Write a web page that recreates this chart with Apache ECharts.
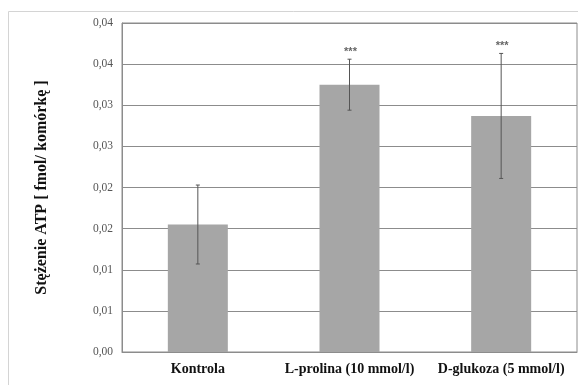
<!DOCTYPE html>
<html>
<head>
<meta charset="utf-8">
<script src="https://cdn.jsdelivr.net/npm/echarts@6/dist/echarts.min.js"></script>
<style>
html,body{margin:0;padding:0;background:#fff;}
#c{width:578px;height:385px;}
</style>
</head>
<body>
<div id="c"></div>
<script>
var categories = ['Kontrola', 'L-prolina (10 mmol/l)', 'D-glukoza (5 mmol/l)'];
var means = [0.0155, 0.0325, 0.0287];
var errors = [0.0048, 0.0031, 0.0076];
var significance = ['', '***', '***'];
var yTickLabels = ['0,00', '0,01', '0,01', '0,02', '0,02', '0,03', '0,03', '0,04', '0,04'];
var yTitle = 'Stężenie ATP [ fmol/ komórkę ]';

var chart = echarts.init(document.getElementById('c'), null, {renderer: 'canvas'});
var errData = means.map(function (m, i) { return [i, m - errors[i], m + errors[i], significance[i]]; });

chart.setOption({
  animation: false,
  backgroundColor: '#fff',
  graphic: [{
    type: 'rect', silent: true, z: -10,
    shape: {x: 8.5, y: 11.5, width: 600, height: 400},
    style: {fill: 'none', stroke: '#d4d4d4', lineWidth: 1}
  }],
  grid: {left: 122, top: 23, right: 1, bottom: 33, show: true, borderColor: '#8c8c8c', borderWidth: 1, backgroundColor: 'transparent'},
  xAxis: {
    type: 'category',
    data: categories,
    axisTick: {show: false},
    axisLine: {lineStyle: {color: '#8c8c8c'}},
    axisLabel: {color: '#111', fontFamily: 'Liberation Serif', fontWeight: 'bold', fontSize: 14, margin: 10, interval: 0}
  },
  yAxis: {
    type: 'value', min: 0, max: 0.04, interval: 0.005,
    name: yTitle, nameLocation: 'middle', nameGap: 72, nameRotate: 90,
    nameTextStyle: {color: '#111', fontFamily: 'Liberation Serif', fontWeight: 'bold', fontSize: 16},
    axisLine: {show: true, lineStyle: {color: '#8c8c8c'}},
    axisTick: {show: false},
    splitLine: {lineStyle: {color: '#8c8c8c', width: 1}},
    axisLabel: {
      color: '#555', fontFamily: 'Liberation Serif', fontSize: 11.5, margin: 9,
      formatter: function (v, idx) { return yTickLabels[Math.round(v / 0.005)]; }
    }
  },
  series: [{
    type: 'bar',
    data: means,
    barWidth: 60,
    itemStyle: {color: '#a6a6a6'}
  }, {
    type: 'custom',
    data: errData,
    z: 10,
    renderItem: function (params, api) {
      var x = api.value(0);
      var lo = api.coord([x, api.value(1)]);
      var hi = api.coord([x, api.value(2)]);
      var cap = 2;
      var st = {stroke: '#555', lineWidth: 1};
      var children = [
        {type: 'line', shape: {x1: lo[0], y1: lo[1], x2: hi[0], y2: hi[1]}, style: st},
        {type: 'line', shape: {x1: lo[0] - cap, y1: lo[1], x2: lo[0] + cap, y2: lo[1]}, style: st},
        {type: 'line', shape: {x1: hi[0] - cap, y1: hi[1], x2: hi[0] + cap, y2: hi[1]}, style: st}
      ];
      var s = significance[params.dataIndex];
      if (s) {
        children.push({type: 'text', style: {text: s, x: hi[0] + 1, y: hi[1] - 2, align: 'center', verticalAlign: 'bottom', fill: '#666', font: 'bold 11px Liberation Sans'}});
      }
      return {type: 'group', children: children};
    }
  }]
});
</script>
</body>
</html>
